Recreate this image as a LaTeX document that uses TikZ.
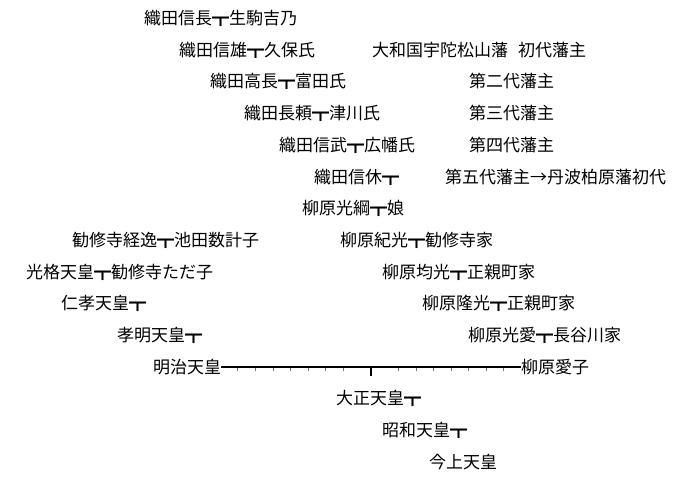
\documentclass[tikz,border=0pt]{standalone}
\usepackage{fontspec}
\setmainfont{Noto Sans CJK JP}
\begin{document}
\begin{tikzpicture}[x=1pt,y=-1pt,
  lbl/.style={anchor=base west, inner sep=0pt, outer sep=0pt, font=\fontsize{17}{17}\selectfont, text=black},
  bar/.style={line width=2pt, black},
  tick/.style={line width=0.5pt, black!55}]
\fill[white] (0,0) rectangle (693,479);
\useasboundingbox (0,0) rectangle (693,479);
% row 1
\node[lbl] (r1a) at (144,24.5) {織田信長┳生駒吉乃};
% row 2
\node[lbl] (r2a) at (179,56.2) {織田信雄┳久保氏};
\node[lbl] (r2b) at (372,56.2) {大和国宇陀松山藩\hspace{10pt}初代藩主};
% row 3
\node[lbl] (r3a) at (210,87.9) {織田高長┳富田氏};
\node[lbl] (r3b) at (469,87.9) {第二代藩主};
% row 4
\node[lbl] (r4a) at (244,119.6) {織田長頼┳津川氏};
\node[lbl] (r4b) at (469,119.6) {第三代藩主};
% row 5
\node[lbl] (r5a) at (279,151.3) {織田信武┳広幡氏};
\node[lbl] (r5b) at (469,151.3) {第四代藩主};
% row 6
\node[lbl] (r6a) at (314,183) {織田信休┳};
\node[lbl] (r6b) at (445,183) {第五代藩主→丹波柏原藩初代};
% row 7
\node[lbl] (r7a) at (302,214.7) {柳原光綱┳娘};
% row 8
\node[lbl] (r8a) at (72,246.4) {勧修寺経逸┳池田数計子};
\node[lbl] (r8b) at (340,246.4) {柳原紀光┳勧修寺家};
% row 9
\node[lbl] (r9a) at (26,278.1) {光格天皇┳勧修寺ただ子};
\node[lbl] (r9b) at (382,278.1) {柳原均光┳正親町家};
% row 10
\node[lbl] (r10a) at (61,309.8) {仁孝天皇┳};
\node[lbl] (r10b) at (422,309.8) {柳原隆光┳正親町家};
% row 11
\node[lbl] (r11a) at (117,341.5) {孝明天皇┳};
\node[lbl] (r11b) at (468,341.5) {柳原光愛┳長谷川家};
% row 12
\node[lbl] (meiji) at (153,373.2) {明治天皇};
\node[lbl] (aiko) at (521,373.2) {柳原愛子};
% row 13-15
\node[lbl] (taisho) at (336,404.9) {大正天皇┳};
\node[lbl] (showa) at (382,436.6) {昭和天皇┳};
\node[lbl] (kinjo) at (429,468.3) {今上天皇};
% marriage line
\coordinate (mid) at (371,366.7);
\coordinate (midlow) at (371,376);
\draw[bar] ([yshift=6.5pt]meiji.base east) -- ([yshift=6.5pt]aiko.base west);
\draw[bar] (mid) -- (midlow);
\foreach \k in {1,...,7} {
  \coordinate (tl\k) at ({220+17.6*\k},368);
  \draw[tick] (tl\k) -- ++(0,2.5);
  \coordinate (tr\k) at ({381+17.5*\k},368);
  \draw[tick] (tr\k) -- ++(0,2.5);
}
\end{tikzpicture}
\end{document}
